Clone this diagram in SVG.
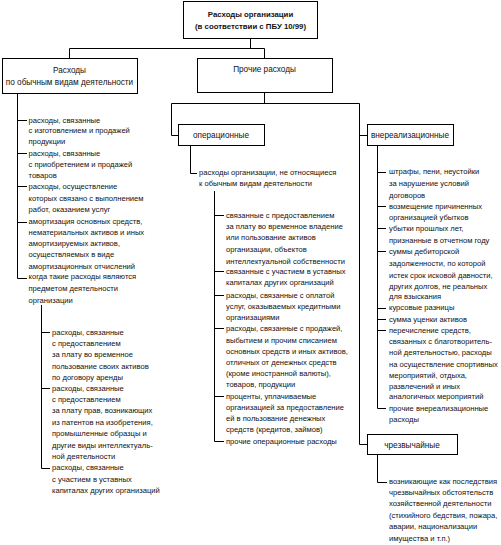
<svg xmlns="http://www.w3.org/2000/svg" width="501" height="545" viewBox="0 0 501 545">
<style>
.bg{fill:#fff}
.box{fill:#fff;stroke:#000;stroke-width:1}
.ln{fill:none;stroke:#000;stroke-width:1}
text{font-family:"Liberation Sans",Arial,sans-serif;fill:#111}
.t{font-size:7.6px}
.h{font-size:8.2px;text-anchor:middle}
.hb{font-size:7.8px;font-weight:bold;text-anchor:middle}
</style>
<rect class="bg" x="0" y="0" width="501" height="545"/>
<g id="connectors">
<path class="ln" d="M250.5 38.5V48.5M69.5 58.5V48.5H264.5V58.5"/>
<path class="ln" d="M264.5 92.5V103.5M171.5 135.5V103.5H359.5V444.5H367.5M171.5 135.5H178.5M359.5 135.5H367.5"/>
<path class="ln" d="M17.5 93.5V278.5H27M17.5 120.5H27M17.5 153.5H27M17.5 186.5H27M17.5 222.5H27"/>
<path class="ln" d="M41.5 305V468.5H50M41.5 332.5H50M41.5 388.5H50"/>
<path class="ln" d="M190.5 145.5V173.5H197"/>
<path class="ln" d="M214.5 191V441.5H224M214.5 215.5H224M214.5 271.5H224M214.5 295.5H224M214.5 328.5H224M214.5 396.5H224"/>
<path class="ln" d="M377.5 145.5V408.5H386M377.5 172.5H386M377.5 206.5H386M377.5 228.5H386M377.5 251.5H386M377.5 308.5H386M377.5 319.5H386M377.5 330.5H386"/>
<path class="ln" d="M377.5 454.5V482.5H387"/>
</g>
<g id="root">
<rect class="box" x="183.5" y="1.5" width="134" height="37"/>
<text class="hb" x="250.5" y="16.5">Расходы организации</text>
<text class="hb" x="250.5" y="28.5">(в соответствии с ПБУ 10/99)</text>
</g>
<g id="ordinary">
<rect class="box" x="2.5" y="58.5" width="135" height="35"/>
<text class="h" x="69.5" y="73">Расходы</text>
<text class="h" x="69.5" y="85">по обычным видам деятельности</text>
</g>
<g id="other">
<rect class="box" x="197.5" y="58.5" width="135" height="34"/>
<text class="h" x="264.5" y="72">Прочие расходы</text>
</g>
<g id="operating">
<rect class="box" x="178.5" y="124.5" width="86" height="21"/>
<text class="h" x="221" y="138">операционные</text>
</g>
<g id="nonoperating">
<rect class="box" x="367.5" y="124.5" width="86" height="21"/>
<text class="h" x="410" y="138">внереализационные</text>
</g>
<g id="emergency">
<rect class="box" x="367.5" y="434.5" width="90" height="20"/>
<text class="h" x="412" y="447.5">чрезвычайные</text>
</g>
<g id="ordinary-list" class="t">
<text x="28.5" y="122.6">расходы, связанные</text>
<text x="28.5" y="133.3">с изготовлением и продажей</text>
<text x="28.5" y="144.3">продукции</text>
<text x="28.5" y="155.9">расходы, связанные</text>
<text x="28.5" y="166.9">с приобретением и продажей</text>
<text x="28.5" y="177.6">товаров</text>
<text x="28.5" y="189.3">расходы, осуществление</text>
<text x="28.5" y="200.9">которых связано с выполнением</text>
<text x="28.5" y="211.9">работ, оказанием услуг</text>
<text x="28.5" y="224.3">амортизация основных средств,</text>
<text x="28.5" y="235.3">нематериальных активов и иных</text>
<text x="28.5" y="246">амортизируемых активов,</text>
<text x="28.5" y="256.9">осуществляемых в виде</text>
<text x="28.5" y="268.6">амортизационных отчислений</text>
<text x="28.5" y="279.3">когда такие расходы являются</text>
<text x="28.5" y="290.9">предметом деятельности</text>
<text x="28.5" y="302.6">организации</text>
</g>
<g id="ordinary-sublist" class="t">
<text x="52" y="334.9">расходы, связанные</text>
<text x="52" y="345.9">с предоставлением</text>
<text x="52" y="356.9">за плату  во временное</text>
<text x="52" y="368.6">пользование своих активов</text>
<text x="52" y="379.9">по договору аренды</text>
<text x="52" y="390.9">расходы, связанные</text>
<text x="52" y="401.6">с предоставлением</text>
<text x="52" y="413.3">за плату прав, возникающих</text>
<text x="52" y="425.3">из патентов на изобретения,</text>
<text x="52" y="435.9">промышленные образцы и</text>
<text x="52" y="447.6">другие виды интеллектуаль-</text>
<text x="52" y="458.6">ной деятельности</text>
<text x="52" y="470.3">расходы, связанные</text>
<text x="52" y="481.9">с участием в уставных</text>
<text x="52" y="492.6">капиталах других организаций</text>
</g>
<g id="operating-list" class="t">
<text x="199" y="175.3">расходы организации, не относящиеся</text>
<text x="199" y="185.9">к обычным видам деятельности</text>
<text x="226" y="217.6">связанные с предоставлением</text>
<text x="226" y="229.3">за плату во временное владение</text>
<text x="226" y="240.3">или пользование активов</text>
<text x="226" y="251.9">организации, объектов</text>
<text x="226" y="263.6">интеллектуальной собственности</text>
<text x="226" y="274.3">связанные с участием в уставных</text>
<text x="226" y="285.3">капиталах других организаций</text>
<text x="226" y="297.6">расходы,  связанные  с оплатой</text>
<text x="226" y="308.6">услуг, оказываемых кредитными</text>
<text x="226" y="319.6">организациями</text>
<text x="226" y="330.9">расходы, связанные с продажей,</text>
<text x="226" y="342.6">выбытием и прочим списанием</text>
<text x="226" y="353.6">основных средств и иных активов,</text>
<text x="226" y="364.9">отличных  от денежных средств</text>
<text x="226" y="375.9">(кроме иностранной валюты),</text>
<text x="226" y="386.9">товаров, продукции</text>
<text x="226" y="398.6">проценты,  уплачиваемые</text>
<text x="226" y="409.9">организацией за предоставление</text>
<text x="226" y="420.9">ей в пользование денежных</text>
<text x="226" y="431.9">средств (кредитов, займов)</text>
<text x="226" y="443.6">прочие операционные расходы</text>
</g>
<g id="nonoperating-list" class="t">
<text x="389" y="174.3">штрафы, пени, неустойки</text>
<text x="389" y="185.9">за нарушение  условий</text>
<text x="389" y="197.6">договоров</text>
<text x="389" y="208.6">возмещение причиненных</text>
<text x="389" y="219.9">организацией  убытков</text>
<text x="389" y="230.9">убытки прошлых лет,</text>
<text x="389" y="242.6">признанные в отчетном году</text>
<text x="389" y="253.6">суммы дебиторской</text>
<text x="389" y="265.9">задолженности, по которой</text>
<text x="389" y="277.6">истек срок исковой давности,</text>
<text x="389" y="288.6">других долгов, не реальных</text>
<text x="389" y="299.3">для взыскания</text>
<text x="389" y="310.3">курсовые разницы</text>
<text x="389" y="321.9">сумма уценки активов</text>
<text x="389" y="333.3">перечисление средств,</text>
<text x="389" y="344.3">связанных с благотворитель-</text>
<text x="389" y="355.3">ной деятельностью, расходы</text>
<text x="389" y="366.6">на осуществление  спортивных</text>
<text x="389" y="377.6">мероприятий, отдыха,</text>
<text x="389" y="388.6">развлечений и иных</text>
<text x="389" y="399.3">аналогичных  мероприятий</text>
<text x="389" y="410.9">прочие  внереализационные</text>
<text x="389" y="421.9">расходы</text>
</g>
<g id="emergency-list" class="t">
<text x="389" y="484.3">возникающие  как  последствия</text>
<text x="389" y="495.3">чрезвычайных обстоятельств</text>
<text x="389" y="505.9">хозяйственной  деятельности</text>
<text x="389" y="517.6">(стихийного бедствия,  пожара,</text>
<text x="389" y="529.3">аварии,  национализации</text>
<text x="389" y="540.9">имущества  и  т.п.)</text>
</g>
</svg>
